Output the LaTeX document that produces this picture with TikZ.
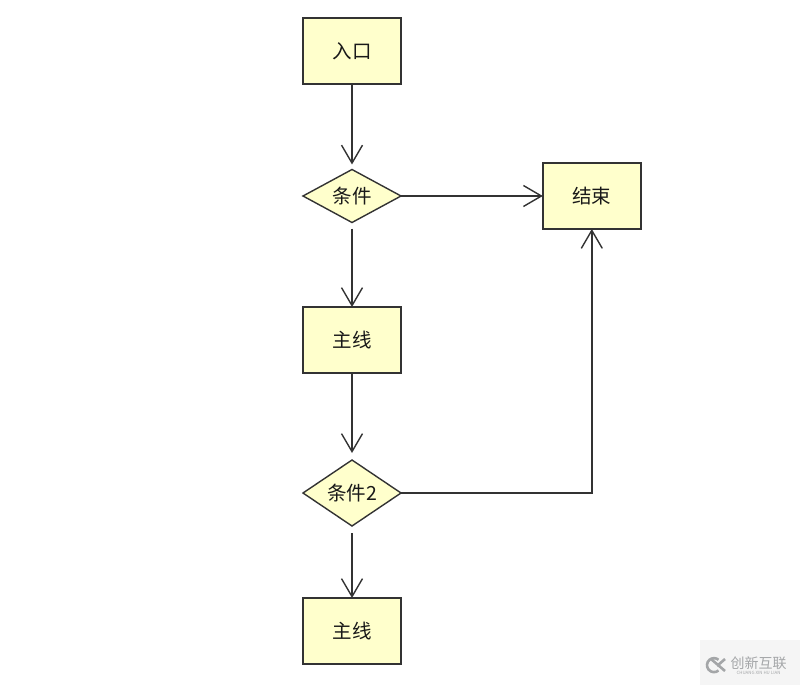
\documentclass[tikz,border=0pt]{standalone}
\usepackage{fontspec}
\setmainfont{Noto Sans CJK SC}
\usetikzlibrary{arrows.meta,shapes.geometric}
\definecolor{boxfill}{HTML}{FFFFCC}
\definecolor{boxline}{HTML}{333333}
\definecolor{markgray}{HTML}{A4A6A8}
\tikzset{
  base/.style={draw=boxline, fill=boxfill, line width=1.4pt, inner sep=0pt, outer sep=0pt,
    text=black!90, font=\fontsize{19.5}{19.5}\selectfont},
  stepbox/.style={base, rectangle, minimum width=98pt, minimum height=66pt},
  choice/.style={base, diamond, aspect=1.5, minimum width=98pt},
  link/.style={draw=boxline, line width=1.4pt, ->},
}
\begin{document}
\begin{tikzpicture}[x=1pt, y=-1pt, >={Straight Barb[length=18pt, width=21pt, line width=1.4pt]}]
    \useasboundingbox (0, 0) rectangle (800, 685);
    \node[stepbox] (entry) at (352, 51) {入口};
    \node[choice, minimum height=53pt] (condA) at (352, 196) {条件};
    \node[stepbox] (finish) at (591.8, 196) {结束};
    \node[stepbox] (mainA) at (352, 340) {主线};
    \node[choice, minimum height=66pt] (condB) at (352, 493) {条件2};
    \node[stepbox] (mainB) at (352, 631) {主线};
    \draw[link, shorten >=5pt] (entry) -- (condA);
    \draw[link] (condA) -- (finish);
    \draw[link, shorten <=6pt] (condA) -- (mainA);
    \draw[link, shorten >=7pt] (mainA) -- (condB);
    \draw[link, shorten <=7pt] (condB) -- (mainB);
    \draw[link] (condB.east) -| (finish.south);
    \fill[black!4] (700, 640) rectangle (800, 685);
    \draw[markgray, line width=2.6pt] (718.5, 670.5) arc (50:310:7);
    \draw[markgray, line width=2.6pt] (711, 659) -- (725, 671) (725, 659) -- (717, 666);
    \node[text=markgray, inner sep=0pt, font=\fontsize{14}{14}\selectfont] (markname) at (758.5, 663.5) {创新互联};
    \node[text=markgray, inner sep=0pt, font=\fontsize{4.4}{4.4}\selectfont] (markline) at (758.5, 672.5) {CHUANG XIN HU LIAN};
\end{tikzpicture}
\end{document}
